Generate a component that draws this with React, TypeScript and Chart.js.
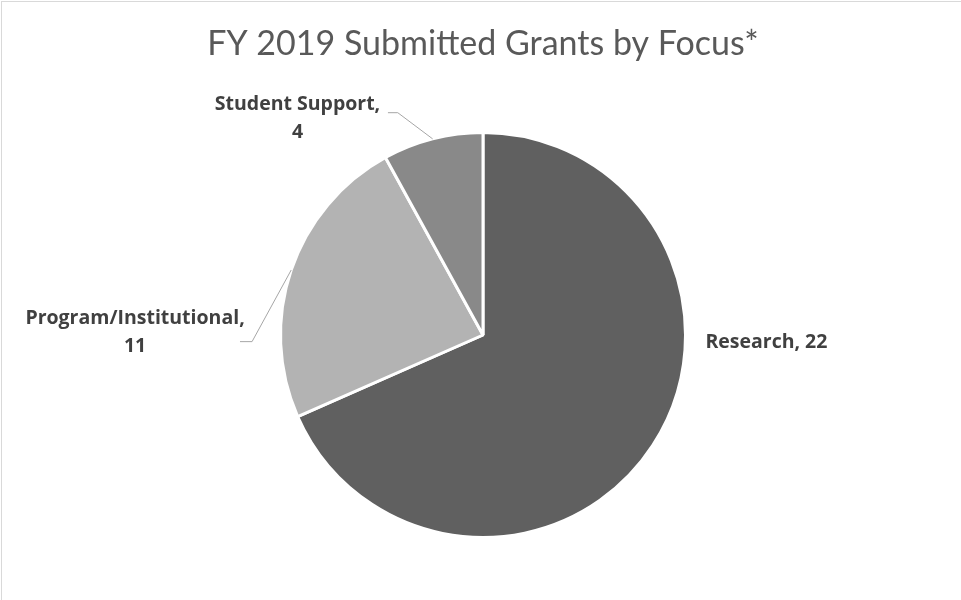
import React, { useEffect, useRef } from "react";
import { Chart, registerables } from "chart.js";

Chart.register(...registerables);

// ---- data ----
const titleText = "FY 2019 Submitted Grants by Focus*";
const categories = ["Research", "Program/Institutional", "Student Support"];
// counts as printed on the data labels
const labelCounts = [22, 11, 4];
// slice sizes as drawn in the picture (percent of the full circle)
const sliceShares = [68.4, 23.6, 8.0];

// ---- styling / layout (kept separate from data) ----
const sliceColors = ["#606060", "#b3b3b3", "#898989"];
const labelFont = "bold 19.5px 'Open Sans'";
const labelColor = "#404040";
const labelLineHeight = 28;
const leaderColor = "#a6a6a6";
const sliceBorder = 3;

// label block centre and leader-line start/elbow, in units of pie radius from pie centre
const labelLayout = [
  { cx: 1.41, cy: 0.035, wrap: false, leader: null as null | number[] },
  { cx: -1.731, cy: -0.015, wrap: true, leader: [-1.209, 0.033, -1.149, 0.033] },
  { cx: -0.923, cy: -1.077, wrap: true, leader: [-0.473, -1.106, -0.424, -1.106] },
];

const dataLabelPlugin = {
  id: "excelDataLabels",
  afterDatasetsDraw(chart: any) {
    const ctx = chart.ctx as CanvasRenderingContext2D;
    const meta = chart.getDatasetMeta(0);
    ctx.save();
    meta.data.forEach((arc: any, i: number) => {
      const { x, y, startAngle, endAngle, outerRadius } = arc.getProps(
        ["x", "y", "startAngle", "endAngle", "outerRadius"],
        true
      );
      const r = outerRadius - sliceBorder / 2;
      const lay = labelLayout[i];
      if (lay.leader) {
        const mid = (startAngle + endAngle) / 2;
        const ax = x + Math.cos(mid) * (r + 1.5);
        const ay = y + Math.sin(mid) * (r + 1.5);
        ctx.beginPath();
        ctx.strokeStyle = leaderColor;
        ctx.lineWidth = 1;
        ctx.moveTo(x + lay.leader[0] * r, y + lay.leader[1] * r);
        ctx.lineTo(x + lay.leader[2] * r, y + lay.leader[3] * r);
        ctx.lineTo(ax, ay);
        ctx.stroke();
      }
      const lines = lay.wrap
        ? [categories[i] + ",", String(labelCounts[i])]
        : [categories[i] + ", " + labelCounts[i]];
      ctx.font = labelFont;
      ctx.fillStyle = labelColor;
      ctx.textAlign = "center";
      ctx.textBaseline = "middle";
      const bx = x + lay.cx * r;
      const by = y + lay.cy * r;
      const top = by - ((lines.length - 1) * labelLineHeight) / 2;
      lines.forEach((t, k) => ctx.fillText(t, bx, top + k * labelLineHeight));
    });
    ctx.restore();
  },
};

export default function App() {
  const canvasRef = useRef<HTMLCanvasElement | null>(null);

  useEffect(() => {
    if (!canvasRef.current) return;
    const chart = new Chart(canvasRef.current, {
      type: "pie",
      data: {
        labels: categories,
        datasets: [
          {
            data: sliceShares,
            backgroundColor: sliceColors,
            borderColor: "#ffffff",
            borderWidth: sliceBorder,
          },
        ],
      },
      options: {
        responsive: false,
        animation: false,
        events: [],
        layout: { padding: { left: 5, right: 0, top: 0, bottom: 61 } },
        plugins: {
          legend: { display: false },
          tooltip: { enabled: false },
          title: {
            display: true,
            text: titleText,
            color: "#595959",
            font: { family: "Lato", size: 34, weight: "normal", lineHeight: 1.2 },
            padding: { top: 23.9, bottom: 66.3 },
          },
        },
      },
      plugins: [dataLabelPlugin],
    } as any);
    return () => chart.destroy();
  }, []);

  return (
    <div
      style={{
        position: "fixed",
        left: 0,
        top: 0,
        width: 961,
        height: 600,
        background: "#ffffff",
        overflow: "hidden",
      }}
    >
      <div
        style={{
          position: "absolute",
          left: 1,
          top: 1,
          width: 1000,
          height: 700,
          border: "1px solid #d9d9d9",
          boxSizing: "border-box",
        }}
      />
      <canvas
        ref={canvasRef}
        width={961}
        height={600}
        style={{ position: "absolute", left: 0, top: 0, width: 961, height: 600 }}
      />
    </div>
  );
}
